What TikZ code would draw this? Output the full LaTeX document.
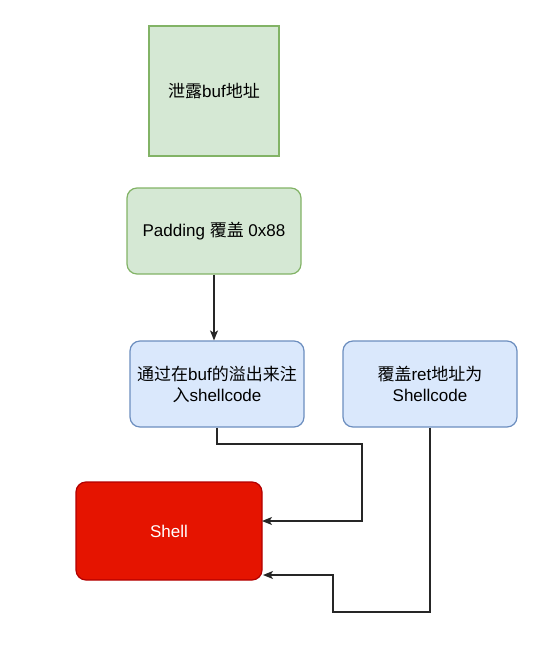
\documentclass[tikz,border=0pt]{standalone}
\usepackage{fontspec}
\setmainfont{Liberation Sans}
\newfontfamily\cjk{Noto Sans CJK SC}
\usetikzlibrary{arrows.meta}
\definecolor{gfill}{HTML}{D5E8D4}
\definecolor{gline}{HTML}{82B366}
\definecolor{bfill}{HTML}{DAE8FC}
\definecolor{bline}{HTML}{6C8EBF}
\definecolor{rfill}{HTML}{E51400}
\definecolor{rline}{HTML}{B20000}
\begin{document}
\begin{tikzpicture}[x=1pt,y=-1pt,
  box/.style={draw, line width=1.2pt, inner sep=0pt, align=center, font=\fontsize{17}{21}\selectfont},
  greenbox/.style={box, fill=gfill, draw=gline},
  bluebox/.style={box, fill=bfill, draw=bline, rounded corners=10pt},
  redbox/.style={box, fill=rfill, draw=rline, rounded corners=10pt, text=white},
  conn/.style={draw=black!85, line width=1.3pt, -{Stealth[length=10pt,width=8pt,inset=2.5pt]}}]
\useasboundingbox (0,0) rectangle (555,646);
\node[greenbox, minimum width=130pt, minimum height=130pt] (b1) at (214,91) {{\cjk 泄露}buf{\cjk 地址}};
\node[greenbox, rounded corners=10pt, minimum width=174pt, minimum height=86pt] (b2) at (214,231) {Padding {\cjk 覆盖} 0x88};
\node[bluebox, minimum width=174pt, minimum height=86pt] (b3) at (217,384) {{\cjk 通过在}buf{\cjk 的溢出来注}\\{\cjk 入}shellcode};
\node[bluebox, minimum width=174pt, minimum height=86pt] (b4) at (430,384) {{\cjk 覆盖}ret{\cjk 地址为}\\Shellcode};
\node[redbox, minimum width=186pt, minimum height=98pt] (sh) at (169,531) {Shell};
\coordinate (c1) at (362,444);
\coordinate (c2) at (362,521);
\coordinate (e1) at (262,521);
\coordinate (c3) at (430,612);
\coordinate (c4) at (333,612);
\coordinate (c5) at (333,575);
\coordinate (e2) at (263,575);
\draw[conn] (b2.south) -- (b2.south |- b3.north);
\draw[conn] (b3.south) |- (c1) -- (c2) -- (e1);
\draw[conn] (b4.south) -- (c3) -- (c4) -- (c5) -- (e2);
\end{tikzpicture}
\end{document}
